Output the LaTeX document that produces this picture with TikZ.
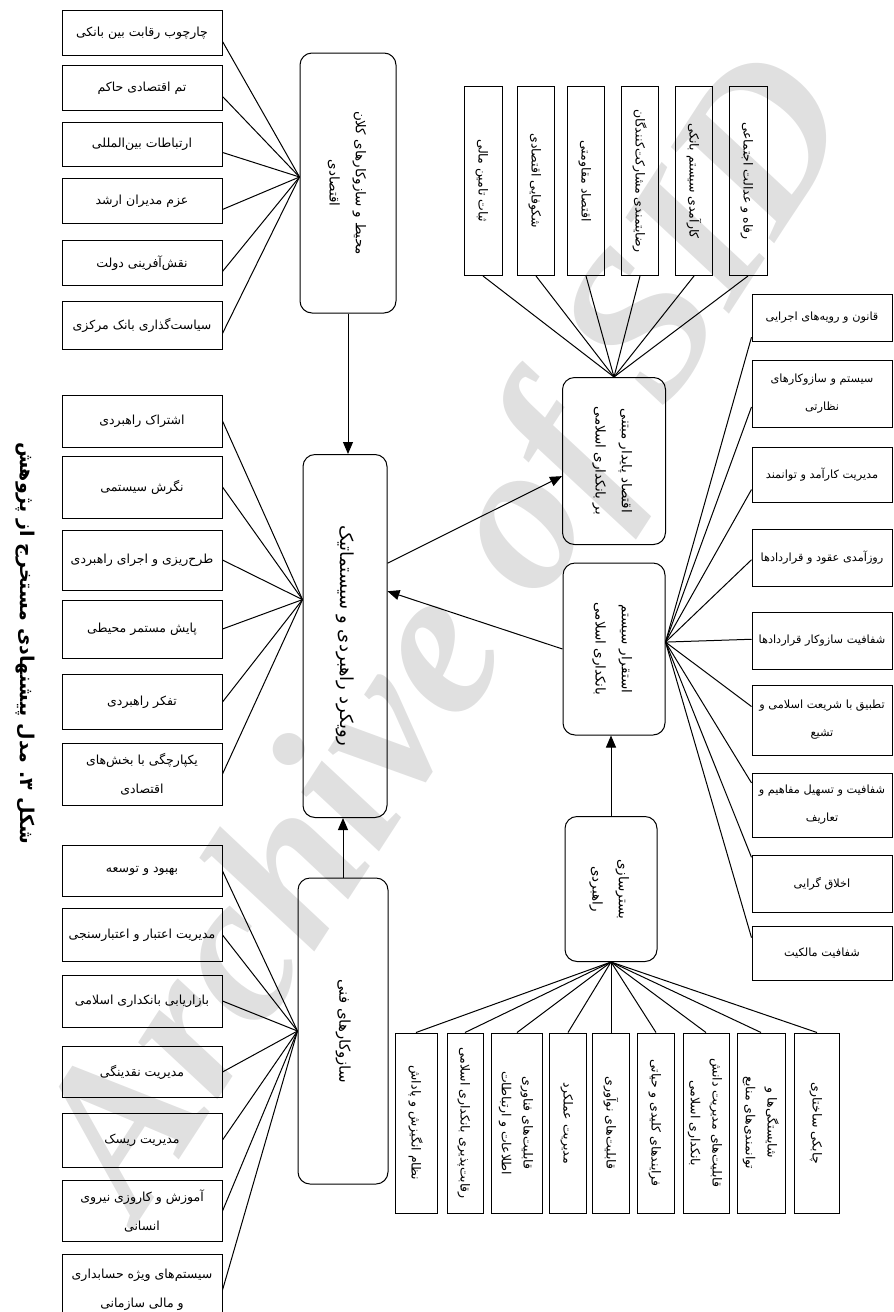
\documentclass[tikz,border=0pt]{standalone}
\usepackage{fontspec}
\setmainfont{DejaVu Sans}
\newfontfamily\arabicfont[Script=Arabic]{DejaVu Sans}
\newfontfamily\wmfont{Liberation Serif}
\TeXXeTstate=1
\usetikzlibrary{arrows.meta,calc}
\newcommand\fa[1]{{\arabicfont\beginR #1\endR}}
\newcommand\rfa[1]{\rotatebox{-90}{\renewcommand\arraystretch{0.75}\begin{tabular}{@{}c@{}}#1\end{tabular}}}
\begin{document}
\begin{tikzpicture}[x=1pt,y=-1pt,
  sq/.style={draw, line width=1pt, align=center, inner sep=1pt, font=\fontsize{12.5}{29}\selectfont},
  dq/.style={sq, minimum width=140, font=\fontsize{11.3}{28}\selectfont},
  rb/.style={sq, rounded corners=12pt, font=\fontsize{13.5}{35}\selectfont},
  ln/.style={line width=1pt},
  arr/.style={line width=1pt, -{Triangle[length=12pt,width=10pt]}}]
\useasboundingbox (0,0) rectangle (894,1312);
\node[black!12, rotate=57] (wm) at (455,640) {\resizebox{1320pt}{!}{\wmfont\bfseries\itshape Archive of SID}};
\node[rotate=-90, font=\fontsize{19}{24}\selectfont\bfseries] (cap) at (25,643) {\fa{شکل ۳. مدل پیشنهادی مستخرج از پژوهش}};
% column A
\node[sq, minimum width=160, minimum height=45] (a1) at (142,33) {\fa{چارچوب رقابت بین بانکی}};
\node[sq, minimum width=160, minimum height=45] (a2) at (142,88) {\fa{تم اقتصادی حاکم}};
\node[sq, minimum width=160, minimum height=44] (a3) at (142,144) {\fa{ارتباطات بین^^^^200cالمللی}};
\node[sq, minimum width=160, minimum height=45] (a4) at (142,201) {\fa{عزم مدیران ارشد}};
\node[sq, minimum width=160, minimum height=45] (a5) at (142,263) {\fa{نقش^^^^200cآفرینی دولت}};
\node[sq, minimum width=160, minimum height=48] (a6) at (142,325) {\fa{سیاست^^^^200cگذاری بانک مرکزی}};
% column B
\node[sq, minimum width=160, minimum height=52] (b1) at (142,421) {\fa{اشتراک راهبردی}};
\node[sq, minimum width=160, minimum height=62] (b2) at (142,487) {\fa{نگرش سیستمی}};
\node[sq, minimum width=160, minimum height=60] (b3) at (142,560) {\fa{طرح^^^^200cریزی و اجرای راهبردی}};
\node[sq, minimum width=160, minimum height=58] (b4) at (142,629) {\fa{پایش مستمر محیطی}};
\node[sq, minimum width=160, minimum height=55] (b5) at (142,702) {\fa{تفکر راهبردی}};
\node[sq, minimum width=160, minimum height=62] (b6) at (142,774) {\fa{یکپارچگی با بخش^^^^200cهای}\\\fa{اقتصادی}};
% column C
\node[sq, minimum width=160, minimum height=51] (c1) at (142,871) {\fa{بهبود و توسعه}};
\node[sq, minimum width=160, minimum height=53] (c2) at (142,935) {\fa{مدیریت اعتبار و اعتبارسنجی}};
\node[sq, minimum width=160, minimum height=52] (c3) at (142,1001) {\fa{بازاریابی بانکداری اسلامی}};
\node[sq, minimum width=160, minimum height=51] (c4) at (142,1072) {\fa{مدیریت نقدینگی}};
\node[sq, minimum width=160, minimum height=54] (c5) at (142,1140) {\fa{مدیریت ریسک}};
\node[sq, minimum width=160, minimum height=61] (c6) at (142,1211) {\fa{آموزش و کاروزی نیروی}\\\fa{انسانی}};
\node[sq, minimum width=160, minimum height=72] (c7) at (142,1290) {\fa{سیستم^^^^200cهای ویژه حسابداری}\\\fa{و مالی سازمانی}};
% central
\node[rb, minimum width=96, minimum height=260] (m1) at (348,183) {\rfa{\fa{محیط و سازوکارهای کلان}\\\fa{اقتصادی}}};
\node[rb, minimum width=84, minimum height=363, font=\fontsize{18}{24}\selectfont] (m2) at (345,636) {\rfa{\fa{رویکرد راهبردی و سیستماتیک}}};
\node[rb, minimum width=90, minimum height=306, font=\fontsize{15}{24}\selectfont] (m3) at (343,1031) {\rfa{\fa{سازوکارهای فنی}}};
\node[rb, minimum width=103, minimum height=167] (r1) at (614,461) {\rfa{\fa{اقتصاد پایدار مبتنی}\\\fa{بر بانکداری اسلامی}}};
\node[rb, minimum width=102, minimum height=172] (r2) at (614,649) {\rfa{\fa{استقرار سیستم}\\\fa{بانکداری اسلامی}}};
\node[rb, minimum width=92, minimum height=145] (r3) at (611,889) {\rfa{\fa{بسترسازی}\\\fa{راهبردی}}};
% top column
\node[sq, minimum width=38, minimum height=189] (t1) at (483,181) {\rfa{\fa{ثبات تامین مالی}}};
\node[sq, minimum width=37, minimum height=189] (t2) at (536,181) {\rfa{\fa{شکوفایی اقتصادی}}};
\node[sq, minimum width=37, minimum height=189] (t3) at (586,181) {\rfa{\fa{اقتصاد مقاومتی}}};
\node[sq, minimum width=37, minimum height=189] (t4) at (640,181) {\rfa{\fa{رضایتمندی مشارکت^^^^200cکنندگان}}};
\node[sq, minimum width=37, minimum height=189] (t5) at (694,181) {\rfa{\fa{کارآمدی سیستم بانکی}}};
\node[sq, minimum width=38, minimum height=189] (t6) at (748,181) {\rfa{\fa{رفاه و عدالت اجتماعی}}};
% right column
\node[dq, minimum height=47] (d1) at (822,318) {\fa{قانون و رویه^^^^200cهای اجرایی}};
\node[dq, minimum height=67] (d2) at (822,394) {\fa{سیستم و سازوکارهای}\\\fa{نظارتی}};
\node[dq, minimum height=55] (d3) at (822,475) {\fa{مدیریت کارآمد و توانمند}};
\node[dq, minimum height=57] (d4) at (822,558) {\fa{روزآمدی عقود و قراردادها}};
\node[dq, minimum height=57] (d5) at (822,641) {\fa{شفافیت سازوکار قراردادها}};
\node[dq, minimum height=70] (d6) at (822,720) {\fa{تطبیق با شریعت اسلامی و}\\\fa{تشیع}};
\node[dq, minimum height=64] (d7) at (822,805) {\fa{شفافیت و تسهیل مفاهیم و}\\\fa{تعاریف}};
\node[dq, minimum height=57] (d8) at (822,884) {\fa{اخلاق گرایی}};
\node[dq, minimum height=54] (d9) at (822,953) {\fa{شفافیت مالکیت}};
% bottom column
\node[sq, minimum width=42, minimum height=180] (u1) at (416,1123) {\rfa{\fa{نظام انگیزش و پاداش}}};
\node[sq, minimum width=36, minimum height=180] (u2) at (465,1123) {\rfa{\fa{رقابت^^^^200cپذیری بانکداری اسلامی}}};
\node[sq, minimum width=51, minimum height=180] (u3) at (517,1123) {\rfa{\fa{قابلیت^^^^200cهای فناوری}\\\fa{اطلاعات و ارتباطات}}};
\node[sq, minimum width=37, minimum height=180] (u4) at (568,1123) {\rfa{\fa{مدیریت عملکرد}}};
\node[sq, minimum width=37, minimum height=180] (u5) at (611,1123) {\rfa{\fa{قابلیت^^^^200cهای نوآوری}}};
\node[sq, minimum width=37, minimum height=180] (u6) at (656,1123) {\rfa{\fa{فرایندهای کلیدی و حیاتی}}};
\node[sq, minimum width=46, minimum height=180] (u7) at (706,1123) {\rfa{\fa{قابلیت^^^^200cهای مدیریت دانش}\\\fa{بانکداری اسلامی}}};
\node[sq, minimum width=48, minimum height=180] (u8) at (761,1123) {\rfa{\fa{شایستگی^^^^200cها و}\\\fa{توانمندی^^^^200cهای منابع}}};
\node[sq, minimum width=45, minimum height=180] (u9) at (817,1123) {\rfa{\fa{چابکی ساختاری}}};
% hubs
\coordinate (hA) at ($(m1.north west)!0.477!(m1.south west)$);
\coordinate (hB) at ($(m2.north west)!0.40!(m2.south west)$);
\coordinate (hD) at ($(r2.north east)!0.46!(r2.south east)$);
% connectors
\foreach \n in {a1,a2,a3,a4,a5,a6} \draw[ln] (\n.-6) -- (hA);
\foreach \n in {b1,b2,b3,b4,b5,b6} \draw[ln] (\n.east) -- (hB);
\foreach \n in {c1,c2,c3,c4,c5,c6,c7} \draw[ln] (\n.east) -- (m3.west);
\foreach \n in {t1,t2,t3,t4,t5,t6} \draw[ln] (\n.south) -- (r1.north);
\foreach \n in {u1,u2,u3,u4,u5,u6,u7,u8,u9} \draw[ln] (\n.north) -- (r3.south);
\foreach \n/\f in {d1/0.9,d2/0.69,d3/0.76,d4/0.53,d5/0.47,d6/0.31,d7/0.16,d8/0.04,d9/0.22}
  \draw[ln] (hD) -- ($(\n.north west)!\f!(\n.south west)$);
\draw[arr] (m1.south) -- (m1.south |- m2.north);
\draw[arr] (m3.north) -- (m3.north |- m2.south);
\draw[arr] ($(m2.north east)!0.30!(m2.south east)$) -- ($(r1.north west)!0.59!(r1.south west)$);
\draw[arr] (r2.west) -- ($(m2.north east)!0.377!(m2.south east)$);
\draw[arr] (r3.north) -- (r3.north |- r2.south);
\end{tikzpicture}
\end{document}
